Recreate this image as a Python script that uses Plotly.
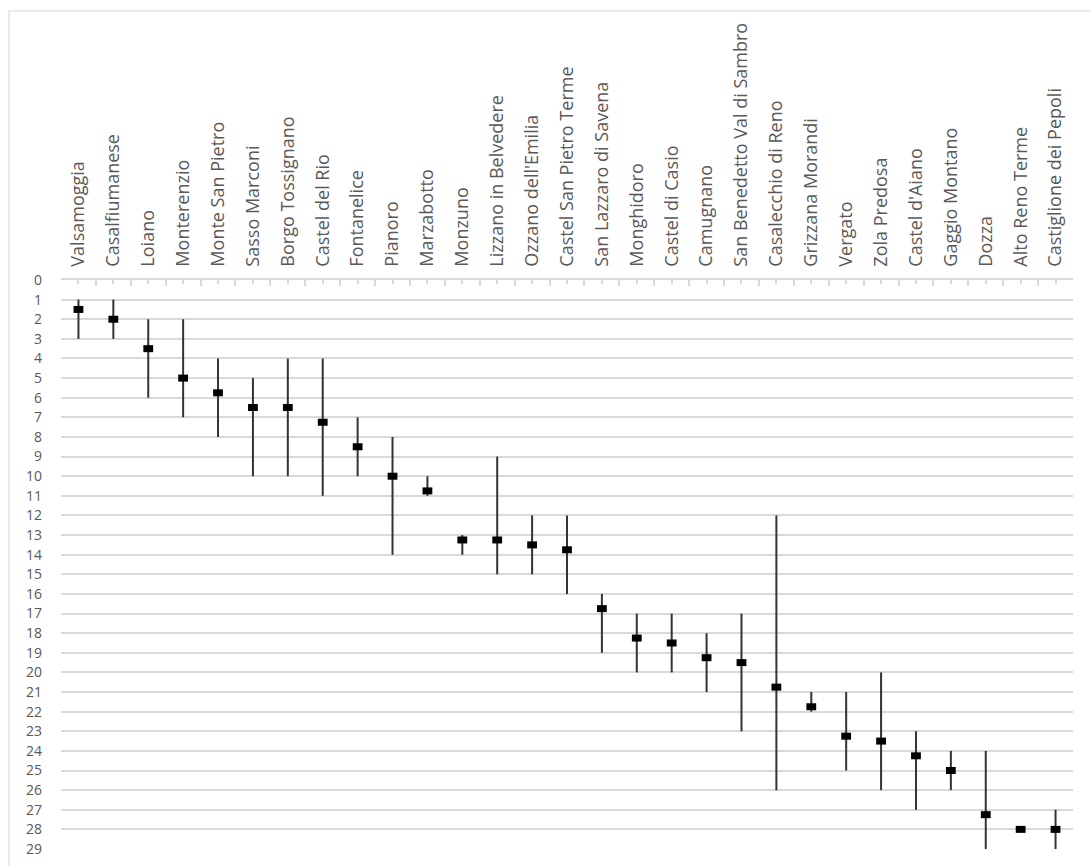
import plotly.graph_objects as go

categories = ["Valsamoggia", "Casalfiumanese", "Loiano", "Monterenzio", "Monte San Pietro",
              "Sasso Marconi", "Borgo Tossignano", "Castel del Rio", "Fontanelice", "Pianoro",
              "Marzabotto", "Monzuno", "Lizzano in Belvedere", "Ozzano dell'Emilia",
              "Castel San Pietro Terme", "San Lazzaro di Savena", "Monghidoro", "Castel di Casio",
              "Camugnano", "San Benedetto Val di Sambro", "Casalecchio di Reno", "Grizzana Morandi",
              "Vergato", "Zola Predosa", "Castel d'Aiano", "Gaggio Montano", "Dozza",
              "Alto Reno Terme", "Castiglione dei Pepoli"]
mean_rank = [1.5, 2, 3.5, 5, 5.75, 6.5, 6.5, 7.25, 8.5, 10, 10.75, 13.25, 13.25, 13.5, 13.75,
             16.75, 18.25, 18.5, 19.25, 19.5, 20.75, 21.75, 23.25, 23.5, 24.25, 25, 27.25, 28, 28]
min_rank = [1, 1, 2, 2, 4, 5, 4, 4, 7, 8, 10, 13, 9, 12, 12, 16, 17, 17, 18, 17, 12, 21, 21, 20,
            23, 24, 24, 28, 27]
max_rank = [3, 3, 6, 7, 8, 10, 10, 11, 10, 14, 11, 14, 15, 15, 16, 19, 20, 20, 21, 23, 26, 22,
            25, 26, 27, 26, 29, 28, 29]
y_ticks = list(range(0, 30))

x_pos = list(range(1, len(categories) + 1))
plus = [mx - m for mx, m in zip(max_rank, mean_rank)]
minus = [m - mn for mn, m in zip(min_rank, mean_rank)]

GRID = "#d9d9d9"
TXT = "#595959"

fig = go.Figure()
fig.add_trace(go.Scatter(
    x=x_pos, y=mean_rank, mode="markers",
    marker=dict(symbol="line-ew", size=7, color="black", line=dict(color="black", width=7)),
    error_y=dict(type="data", symmetric=False, array=plus, arrayminus=minus,
                 color="#333333", thickness=2, width=0),
    showlegend=False,
))

fig.update_layout(
    width=1090, height=866,
    margin=dict(l=61, r=17, t=280, b=17),
    paper_bgcolor="white", plot_bgcolor="white",
    font=dict(family="Open Sans", size=18, color=TXT),
    xaxis=dict(
        side="top", range=[0.5, len(categories) + 0.5], automargin=False,
        tickmode="array", tickvals=x_pos, ticktext=categories, tickangle=-90,
        showgrid=False, zeroline=False,
        showline=True, linecolor=GRID, linewidth=1.5,
        ticks="inside", ticklen=4, tickcolor=GRID, tickwidth=1.5,
        ticklabelstandoff=8,
        minor=dict(ticks="inside", tick0=0.5, dtick=1, ticklen=6, tickcolor=GRID,
                   tickwidth=1.5, showgrid=False),
        tickfont=dict(size=18, color=TXT),
    ),
    yaxis=dict(
        range=[29, 0], tickmode="array", tickvals=y_ticks, automargin=False,
        showgrid=True, gridcolor=GRID, gridwidth=1.5,
        zeroline=False, showline=False, ticks="",
        ticklabelstandoff=18,
        tickfont=dict(size=14, color=TXT),
    ),
    shapes=[dict(type="rect", xref="paper", yref="paper",
                 x0=-0.0514, x1=1.03, y0=-0.06, y1=1.4728,
                 line=dict(color="#e3e3e3", width=1.5), fillcolor="rgba(0,0,0,0)", layer="below")],
)

fig.write_html("out.html", config={"displayModeBar": False},
               post_script="document.body.style.margin='0';")
